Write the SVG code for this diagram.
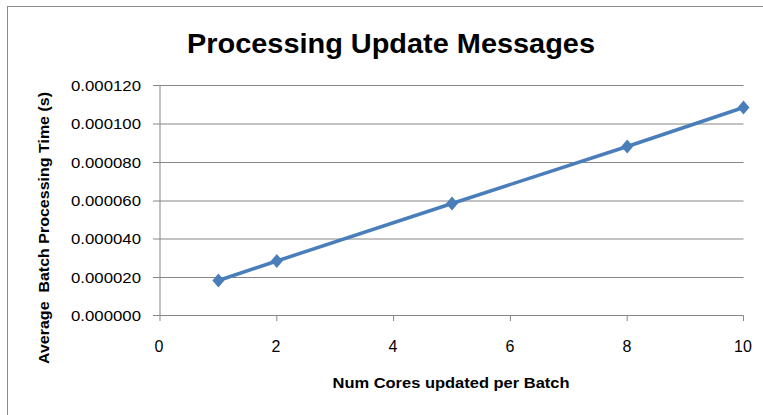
<svg xmlns="http://www.w3.org/2000/svg" width="763" height="415" viewBox="0 0 763 415">
<style>
.grid{stroke:#868686;stroke-width:1;fill:none}
.lbl{font-family:"Liberation Sans",Arial,sans-serif;font-size:15px;fill:#000}
.xl{font-size:16px}
.ttl{font-family:"Liberation Sans",Arial,sans-serif;font-weight:bold;fill:#000}
.series{stroke:#4a7ebb;stroke-width:3.5;fill:none;stroke-linejoin:round}
.mk{fill:#4a7ebb}
</style>
<defs>
<path id="dia" d="M0,-7 L6,0 L0,7 L-6,0 Z"/>
</defs>
<rect x="0" y="0" width="763" height="415" fill="#fff"/>
<rect x="7.5" y="6.5" width="800" height="500" fill="#fff" stroke="#8c8c8c" stroke-width="1"/>
<g id="title"><text class="ttl" x="391" y="53" font-size="28" text-anchor="middle" textLength="408" lengthAdjust="spacingAndGlyphs">Processing Update Messages</text></g>
<g id="grid">
<path class="grid" d="M153,85.5H743.5M153,124H743.5M153,162.5H743.5M153,201H743.5M153,239H743.5M153,277.5H743.5M153,315.5H743.5"/>
<path class="grid" d="M160,85.5V321M276.8,315.5V321M393.6,315.5V321M510.4,315.5V321M627.2,315.5V321M743.5,315.5V321"/>
</g>
<g id="yticks" class="lbl" text-anchor="end">
<text x="141" y="91" textLength="70" lengthAdjust="spacingAndGlyphs">0.000120</text>
<text x="141" y="129" textLength="70" lengthAdjust="spacingAndGlyphs">0.000100</text>
<text x="141" y="168" textLength="70" lengthAdjust="spacingAndGlyphs">0.000080</text>
<text x="141" y="206" textLength="70" lengthAdjust="spacingAndGlyphs">0.000060</text>
<text x="141" y="244" textLength="70" lengthAdjust="spacingAndGlyphs">0.000040</text>
<text x="141" y="283" textLength="70" lengthAdjust="spacingAndGlyphs">0.000020</text>
<text x="141" y="321" textLength="70" lengthAdjust="spacingAndGlyphs">0.000000</text>
</g>
<g id="xticks" class="lbl xl" text-anchor="middle">
<text x="159" y="352">0</text>
<text x="276" y="352">2</text>
<text x="393" y="352">4</text>
<text x="510" y="352">6</text>
<text x="627" y="352">8</text>
<text x="743" y="352">10</text>
</g>
<g id="xaxis-title"><text class="ttl" x="451" y="388" font-size="15" text-anchor="middle" textLength="237" lengthAdjust="spacingAndGlyphs">Num Cores updated per Batch</text></g>
<g id="yaxis-title"><text class="ttl" transform="translate(49,228) rotate(-90)" font-size="14" text-anchor="middle" textLength="272" lengthAdjust="spacingAndGlyphs" xml:space="preserve">Average  Batch Processing Time (s)</text></g>
<g id="connectors">
<polyline class="series" points="218.4,280.5 276.8,261 452,203.5 627.2,146.5 743.5,107.5"/>
</g>
<g id="markers">
<use href="#dia" class="mk" x="218.4" y="280.5"/>
<use href="#dia" class="mk" x="276.8" y="261"/>
<use href="#dia" class="mk" x="452" y="203.5"/>
<use href="#dia" class="mk" x="627.2" y="146.5"/>
<use href="#dia" class="mk" x="743.5" y="107.5"/>
</g>
</svg>
